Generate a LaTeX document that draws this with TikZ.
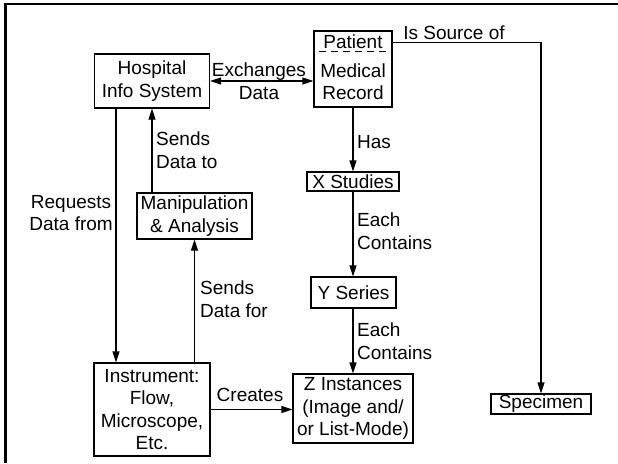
\documentclass[tikz,border=0pt]{standalone}
\usepackage{fontspec}
\setmainfont{Liberation Sans}
\usetikzlibrary{arrows.meta,calc}
\begin{document}
\begin{tikzpicture}[x=1pt,y=-1pt,
  txt/.style={font=\fontsize{19}{22.5}\selectfont},
  box/.style={draw,line width=1.1pt,inner sep=0pt,align=center,txt},
  lbl/.style={inner sep=0pt,txt},
  arr/.style={line width=1.1pt,-{Triangle[length=11pt,width=7pt]}},
  darr/.style={line width=1.1pt,{Triangle[length=11pt,width=7pt]}-{Triangle[length=11pt,width=7pt]}},
  ln/.style={line width=1.1pt}]
\useasboundingbox (0,0) rectangle (618,463);
\draw[line width=2.6pt,line join=miter] (5.5,463) -- (5.5,4) -- (618,4);

% boxes
\node[box,minimum width=115pt,minimum height=54pt] (hosp) at (152,81) {Hospital\\Info System};
\node[box,minimum width=78pt,minimum height=76pt] (pmr) at (353,69) {};
\node[lbl] (pat) at (353,42) {Patient};
\node[lbl,align=center] (medrec) at (353,81.5) {Medical\\Record};
\node[box,minimum width=115pt,minimum height=46pt] (manip) at (194.5,216) {Manipulation\\\& Analysis};
\node[box,minimum width=92pt,minimum height=19pt] (xst) at (353,181.5) {X Studies};
\node[box,minimum width=85pt,minimum height=31pt] (yser) at (353.5,292.5) {Y Series};
\node[box,minimum width=120pt,minimum height=69pt] (zin) at (353,408.5) {Z Instances\\(Image and/\\or List-Mode)};
\node[box,minimum width=116pt,minimum height=93pt] (inst) at (152,409.5) {Instrument:\\Flow,\\Microscope,\\Etc.};
\node[box,minimum width=100pt,minimum height=20pt] (spec) at (541,404) {Specimen};

% dashed divider in patient box
\draw[line width=1.1pt,dash pattern=on 7pt off 5pt] ($(pmr.north west)+(6,21)$) -- ($(pmr.north east)+(0,21)$);

% connectors
\draw[darr] (hosp.east) -- (hosp.east -| pmr.west);
\draw[arr] (manip.north -| hosp.south) -- (hosp.south);
\draw[arr] ([xshift=-36pt]hosp.south) -- ([xshift=-36pt]inst.north);
\draw[arr] (inst.north -| manip.south) -- (manip.south);
\draw[arr] (inst.east) -- (inst.east -| zin.west);
\draw[arr] (pmr.south) -- (xst.north);
\draw[arr] (xst.south) -- (yser.north -| xst.south);
\draw[arr] (yser.south -| xst.south) -- (zin.north -| xst.south);
\draw[arr] ([yshift=-12pt]pmr.north east) -| (spec.north);

% labels
\node[lbl,align=center] (lexch) at (259,81) {Exchanges\\Data};
\node[lbl,align=center] (lsrc) at (454,33) {Is Source of};
\node[lbl,anchor=west] (lhas) at (357,142) {Has};
\node[lbl,anchor=west,align=left] (lec1) at (357,231) {Each\\Contains};
\node[lbl,anchor=west,align=left] (lec2) at (357,341) {Each\\Contains};
\node[lbl,anchor=west,align=left] (lsdt) at (156,150) {Sends\\Data to};
\node[lbl,anchor=west,align=left] (lsdf) at (200,299) {Sends\\Data for};
\node[lbl,anchor=east,align=center] (lreq) at (113,213) {Requests\\Data from};
\node[lbl] (lcre) at (250,395) {Creates};
\end{tikzpicture}
\end{document}
